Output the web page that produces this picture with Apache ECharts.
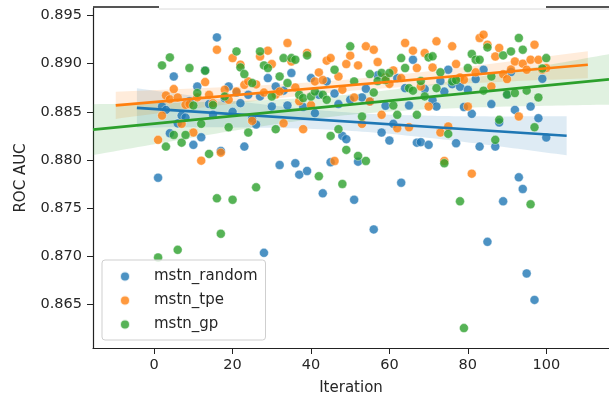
<!DOCTYPE html>
<html>
<head>
<meta charset="utf-8">
<script src="https://cdn.jsdelivr.net/npm/echarts@6.0.0/dist/echarts.min.js"></script>
<style>
  html, body { margin: 0; padding: 0; background: #ffffff; }
  #chart { width: 609px; height: 401px; }
</style>
</head>
<body>
<div id="chart"></div>
<script>
// ROC AUC per optimisation iteration for three search strategies
const seriesNames = ['mstn_random', 'mstn_tpe', 'mstn_gp'];
const seriesColors = ['#1f77b4', '#ff7f0e', '#2ca02c'];

// iterations 1..100
const iterations = Array.from({ length: 100 }, (_, i) => i + 1);

const rocRandom = [
  0.87816, 0.88555, 0.8852, 0.88278, 0.88867, 0.8838, 0.88461, 0.8844, 0.8861, 0.88157,
  0.88763, 0.88236, 0.8893, 0.8858, 0.8847, 0.89273, 0.88094, 0.8864, 0.88763, 0.8850,
  0.8870, 0.8859, 0.88139, 0.88677, 0.8843, 0.88368, 0.8866, 0.87036, 0.8885, 0.88555,
  0.88763, 0.87948, 0.8872, 0.88566, 0.88903, 0.87966, 0.87848, 0.8855, 0.87886, 0.8885,
  0.88486, 0.88677, 0.87654, 0.88816, 0.87977, 0.8869, 0.8858, 0.8825, 0.88216, 0.88625,
  0.87587, 0.87983, 0.8865, 0.8874, 0.88607, 0.87279, 0.8888, 0.88285, 0.88562, 0.88202,
  0.88375, 0.8885, 0.87764, 0.88746, 0.88566, 0.89041, 0.8818, 0.88185, 0.88736, 0.88157,
  0.8862, 0.88555, 0.8882, 0.8871, 0.88937, 0.88787, 0.88174, 0.8876, 0.8855, 0.88729,
  0.88479, 0.8884, 0.88139, 0.88937, 0.8715, 0.8858, 0.88139, 0.88389, 0.87571, 0.88677,
  0.88913, 0.8852, 0.8782, 0.87699, 0.86822, 0.88555, 0.86547, 0.88434, 0.88843, 0.88233
];

const rocTpe = [
  0.88209, 0.88461, 0.8867, 0.8863, 0.88736, 0.88649, 0.88375, 0.88573, 0.8858, 0.88285,
  0.8865, 0.87993, 0.88809, 0.88677, 0.8859, 0.89145, 0.88076, 0.88729, 0.88625, 0.89058,
  0.88711, 0.8899, 0.8878, 0.88816, 0.88406, 0.88785, 0.89075, 0.8870, 0.89135, 0.88996,
  0.8868, 0.88711, 0.88382, 0.89215, 0.89023, 0.88753, 0.8861, 0.8832, 0.89111, 0.8857,
  0.88816, 0.88909, 0.8883, 0.89031, 0.89058, 0.8799, 0.88867, 0.8873, 0.88996, 0.89083,
  0.88649, 0.88982, 0.88375, 0.8918, 0.88607, 0.89145, 0.89017, 0.88469, 0.8886, 0.8879,
  0.8893, 0.8833, 0.8885, 0.89215, 0.8834, 0.89135, 0.88955, 0.88763, 0.89111, 0.88555,
  0.8896, 0.89232, 0.88285, 0.8799, 0.88348, 0.8918, 0.88996, 0.88857, 0.88833, 0.88555,
  0.87858, 0.8891, 0.89267, 0.89301, 0.89197, 0.88763, 0.89075, 0.89163, 0.8889, 0.8884,
  0.8894, 0.89023, 0.88452, 0.8900, 0.88937, 0.89041, 0.89197, 0.8904, 0.88937, 0.88955
];

const rocGp = [
  0.86988, 0.88982, 0.88139, 0.89065, 0.8826, 0.87067, 0.8818, 0.8826, 0.88955, 0.88566,
  0.88695, 0.88375, 0.88927, 0.88063, 0.8857, 0.87602, 0.87234, 0.88659, 0.8834, 0.87587,
  0.89127, 0.88961, 0.88892, 0.88285, 0.88799, 0.87716, 0.89127, 0.88982, 0.88955, 0.88659,
  0.8832, 0.88867, 0.89058, 0.88799, 0.89058, 0.89041, 0.88677, 0.88643, 0.89086, 0.88659,
  0.8871, 0.87831, 0.88677, 0.88625, 0.8825, 0.88937, 0.8832, 0.87751, 0.88105, 0.8918,
  0.88816, 0.88042, 0.88451, 0.8799, 0.88892, 0.8870, 0.8882, 0.88903, 0.8883, 0.88903,
  0.88566, 0.88469, 0.89058, 0.88955, 0.88746, 0.8872, 0.88469, 0.8882, 0.8866, 0.89065,
  0.89076, 0.88746, 0.8891, 0.87966, 0.88271, 0.88816, 0.8883, 0.87571, 0.86255, 0.88955,
  0.891, 0.89041, 0.89041, 0.8872, 0.89169, 0.88867, 0.88209, 0.88417, 0.89086, 0.8868,
  0.89127, 0.88695, 0.89267, 0.89145, 0.8872, 0.8754, 0.8834, 0.88649, 0.8895, 0.89058
];

// x extent over which each fitted trend is drawn
const fitStart = [-4.4, -9.8, -15.6];
const fitEnd = [105.2, 110.6, 116];

const xTicks = [0, 20, 40, 60, 80, 100];
const yTicks = [0.865, 0.870, 0.875, 0.880, 0.885, 0.890, 0.895];
const xRange = [-15.6, 116];
const yRange = [0.86048, 0.89578];

const allSeries = [rocRandom, rocTpe, rocGp];

// ordinary least squares with a 95% confidence band for the mean
function linearFit(xs, ys) {
  const n = xs.length;
  let mx = 0, my = 0;
  for (let i = 0; i < n; i++) { mx += xs[i]; my += ys[i]; }
  mx /= n; my /= n;
  let sxx = 0, sxy = 0;
  for (let i = 0; i < n; i++) {
    sxx += (xs[i] - mx) * (xs[i] - mx);
    sxy += (xs[i] - mx) * (ys[i] - my);
  }
  const b = sxy / sxx;
  const a = my - b * mx;
  let sse = 0;
  for (let i = 0; i < n; i++) {
    const r = ys[i] - (a + b * xs[i]);
    sse += r * r;
  }
  const s = Math.sqrt(sse / (n - 2));
  const t = 1.984;
  return {
    predict: x => a + b * x,
    halfWidth: x => t * s * Math.sqrt(1 / n + (x - mx) * (x - mx) / sxx)
  };
}

const FONT = 'DejaVu Sans';
const TEXT = '#262626';

const scatterSeries = [];
const bandSeries = [];
const lineSeries = [];

allSeries.forEach((vals, k) => {
  const fit = linearFit(iterations, vals);
  const steps = 80;
  const upper = [], lower = [];
  for (let j = 0; j <= steps; j++) {
    const x = fitStart[k] + (fitEnd[k] - fitStart[k]) * j / steps;
    const y = fit.predict(x), h = fit.halfWidth(x);
    upper.push([x, y + h]);
    lower.push([x, y - h]);
  }
  const polygon = upper.concat(lower.reverse());

  scatterSeries.push({
    name: seriesNames[k],
    type: 'scatter',
    data: iterations.map((x, i) => [x, vals[i]]),
    symbol: 'circle',
    symbolSize: 9,
    itemStyle: { color: seriesColors[k], opacity: 0.8, borderColor: '#ffffff', borderWidth: 0.5 },
    emphasis: { disabled: true },
    silent: true
  });

  bandSeries.push({
    name: seriesNames[k] + ' ci',
    type: 'custom',
    data: [[0, 0.88]],
    silent: true,
    renderItem: (params, api) => ({
      type: 'polygon',
      shape: { points: polygon.map(p => api.coord(p)) },
      style: { fill: seriesColors[k], opacity: 0.15 }
    })
  });

  lineSeries.push({
    name: seriesNames[k] + ' fit',
    type: 'line',
    data: [[fitStart[k], fit.predict(fitStart[k])], [fitEnd[k], fit.predict(fitEnd[k])]],
    showSymbol: false,
    symbol: 'none',
    silent: true,
    lineStyle: { color: seriesColors[k], width: 2.6 },
    z: 3
  });
});

// draw order: each scatter followed by its band, then all fit lines on top
const series = [];
for (let k = 0; k < 3; k++) { series.push(scatterSeries[k], bandSeries[k]); }
series.push(...lineSeries);

const chart = echarts.init(document.getElementById('chart'), null, { renderer: 'canvas' });
chart.setOption({
  animation: false,
  backgroundColor: '#ffffff',
  grid: { left: 93, top: 8, width: 521, height: 340, containLabel: false },
  xAxis: {
    type: 'value',
    min: xRange[0],
    max: xRange[1],
    name: 'Iteration',
    nameLocation: 'middle',
    nameGap: 33,
    nameTextStyle: { fontFamily: FONT, fontSize: 15, color: TEXT },
    axisLine: { show: true, onZero: false, lineStyle: { color: '#222222', width: 1.2 } },
    axisTick: { show: true, length: 6, lineStyle: { color: '#222222' }, customValues: xTicks },
    axisLabel: { fontFamily: FONT, fontSize: 14.5, color: TEXT, margin: 10, customValues: xTicks,
                 formatter: v => String(Math.round(v)) },
    splitLine: { show: false }
  },
  yAxis: {
    type: 'value',
    min: yRange[0],
    max: yRange[1],
    name: 'ROC AUC',
    nameLocation: 'middle',
    nameGap: 64,
    nameTextStyle: { fontFamily: FONT, fontSize: 15, color: TEXT },
    axisLine: { show: true, onZero: false, lineStyle: { color: '#222222', width: 1.2 } },
    axisTick: { show: true, length: 6, lineStyle: { color: '#222222' }, customValues: yTicks },
    axisLabel: { fontFamily: FONT, fontSize: 14.5, color: TEXT, margin: 11, customValues: yTicks,
                 formatter: v => v.toFixed(3) },
    splitLine: { show: false }
  },
  legend: {
    data: seriesNames,
    orient: 'vertical',
    left: 102,
    top: 260,
    icon: 'circle',
    itemWidth: 10,
    itemHeight: 10,
    itemGap: 7,
    padding: [8, 8, 7, 17],
    borderColor: '#cfcfcf',
    borderWidth: 1,
    borderRadius: 3,
    backgroundColor: 'rgba(255,255,255,0.8)',
    selectedMode: false,
    textStyle: { fontFamily: FONT, fontSize: 15, color: TEXT, lineHeight: 17, padding: [0, 0, 0, 19] }
  },
  graphic: [
    { type: 'line', shape: { x1: 159, y1: 9, x2: 609, y2: 9 }, style: { stroke: '#dadada', lineWidth: 1 }, silent: true },
    { type: 'line', shape: { x1: 93, y1: 7, x2: 159, y2: 7 }, style: { stroke: '#555555', lineWidth: 2 }, silent: true },
    { type: 'line', shape: { x1: 546, y1: 7, x2: 609, y2: 7 }, style: { stroke: '#555555', lineWidth: 2 }, silent: true }
  ],
  series: series
});
</script>
</body>
</html>
